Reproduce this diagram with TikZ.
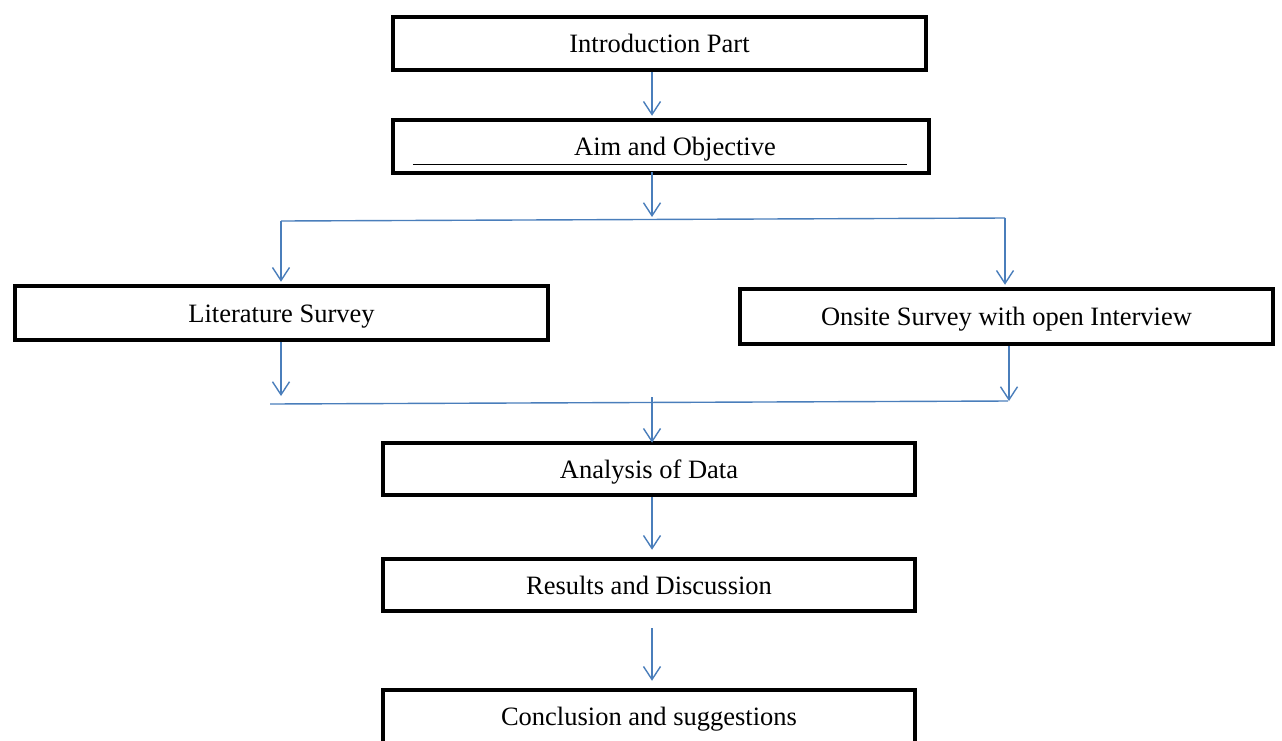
\documentclass[tikz,border=0pt]{standalone}
\definecolor{flowblue}{HTML}{4A7EBB}
\usepackage{fontspec}
\setmainfont{Liberation Serif}
\usetikzlibrary{arrows.meta, calc, positioning}
\begin{document}
\begin{tikzpicture}[x=1pt, y=-1pt,
   stage/.style={draw, line width=4.5pt, minimum height=53pt, inner sep=0pt,
      text height=23pt, text depth=5pt, font=\fontsize{26.5}{30}\selectfont},
   link/.style={flowblue, line width=1.4pt},
   flow/.style={link, -{Straight Barb[length=13pt, width=17pt, line width=1.4pt]}}]
   \useasboundingbox (0,0) rectangle (1282,740);
   % stages
   \node[stage, minimum width=533pt] (intro) at (659.5,43.5) {Introduction Part};
   \node[stage, minimum width=536pt] (aim) at (661,146.5) {\hspace*{28pt}Aim and Objective};
   \node[stage, minimum width=533pt, minimum height=54pt] (lit) at (281.5,313) {Literature Survey};
   \node[stage, minimum width=533pt, minimum height=55pt] (onsite) at (1006.5,316.5) {Onsite Survey with open Interview};
   \node[stage, minimum width=532pt, minimum height=52pt] (analysis) at (649,469) {Analysis of Data};
   \node[stage, minimum width=532pt, minimum height=52pt] (results) at (649,585) {Results and Discussion};
   \node[stage, minimum width=532pt] (concl) at (649,716.5) {Conclusion and suggestions};
   % underline in the aim box
   \draw[line width=1.3pt] ([xshift=22pt, yshift=11pt]aim.south west) -- ([xshift=-24pt, yshift=11pt]aim.south east);
   % split and merge points
   \coordinate (split) at (652,219);
   \coordinate (splitL) at (281,221);
   \coordinate (splitR) at (1005,218);
   \coordinate (mergeL) at (270,404);
   \coordinate (mergeR) at (1008,401);
   \coordinate (litEnd) at (281,396);
   \coordinate (onEnd) at (1009,401);
   \coordinate (merge) at (652,397);
   \coordinate (gap) at (652,628);
   % connectors
   \draw[flow] (intro.south -| split) -- ([yshift=2pt]aim.north -| split);
   \draw[flow] ([yshift=3pt]aim.south -| split) -- ([yshift=2pt]split);
   \draw[link] (splitL) -- (splitR);
   \draw[flow] (splitL) -- ([yshift=2pt]lit.north -| splitL);
   \draw[flow] (splitR) -- ([yshift=2pt]onsite.north -| splitR);
   \draw[flow] (lit.south -| litEnd) -- (litEnd);
   \draw[flow] (onsite.south -| onEnd) -- (onEnd);
   \draw[link] (mergeL) -- (mergeR);
   \draw[flow] (merge) -- ([yshift=-2pt]analysis.north -| merge);
   \draw[flow] (analysis.south -| merge) -- ([yshift=7pt]results.north -| merge);
   \draw[flow] (gap) -- ([yshift=7pt]concl.north -| gap);
\end{tikzpicture}
\end{document}
